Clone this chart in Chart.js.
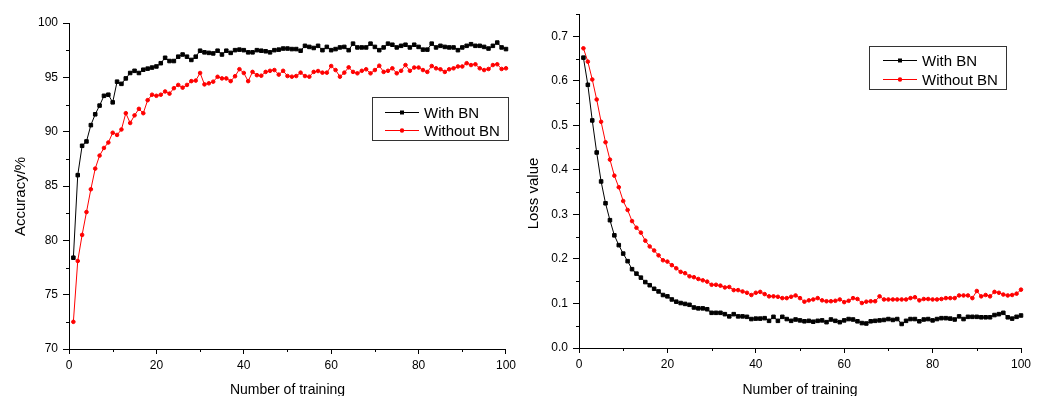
<!DOCTYPE html>
<html>
<head>
<meta charset="utf-8">
<script src="https://cdn.jsdelivr.net/npm/chart.js@4.4.1/dist/chart.umd.min.js"></script>
<style>
  html, body { margin: 0; padding: 0; background: #fff; overflow: hidden; }
  #wrap { position: relative; width: 1049px; height: 396px; }
  .box { position: absolute; top: 0; height: 396px; }
</style>
</head>
<body>
<div id="wrap">
  <div class="box" style="left:0;width:520px"><canvas id="acc"></canvas></div>
  <div class="box" style="left:520px;width:529px"><canvas id="loss"></canvas></div>
</div>
<script>
// training rounds 1..100
const epochs = Array.from({ length: 100 }, (_, i) => i + 1);

const accWithBN = [
  78.4, 86.0, 88.7, 89.1, 90.6, 91.6, 92.4, 93.3, 93.4, 92.7,
  94.6, 94.4, 94.9, 95.4, 95.6, 95.4, 95.7, 95.8, 95.9, 96.0,
  96.3, 96.8, 96.5, 96.5, 96.9, 97.1, 96.9, 96.6, 96.9, 97.45,
  97.3, 97.25, 97.2, 97.45, 97.1, 97.45, 97.25, 97.5, 97.55, 97.5,
  97.3, 97.3, 97.5, 97.45, 97.4, 97.3, 97.5, 97.55, 97.65, 97.65,
  97.6, 97.6, 97.45, 97.9, 97.8, 97.7, 97.9, 97.5, 97.8, 97.5,
  97.6, 97.75, 97.8, 97.5, 98.1, 97.75, 97.75, 97.75, 98.1, 97.8,
  97.5, 97.75, 98.1, 98.0, 97.75, 97.9, 98.0, 97.75, 98.0, 97.8,
  97.55, 97.55, 98.1, 97.75, 97.9, 97.8, 97.75, 97.75, 97.5, 97.75,
  97.9, 98.05, 97.9, 97.9, 97.8, 97.65, 97.9, 98.2, 97.75, 97.6
];
const accWithoutBN = [
  72.5, 78.1, 80.5, 82.6, 84.7, 86.6, 87.8, 88.5, 89.0, 89.9,
  89.7, 90.2, 91.7, 90.8, 91.5, 92.1, 91.7, 92.9, 93.4, 93.3,
  93.4, 93.7, 93.5, 94.0, 94.3, 94.05, 94.3, 94.65, 94.7, 95.4,
  94.35, 94.45, 94.6, 95.05, 94.9, 94.9, 94.65, 95.1, 95.75, 95.4,
  94.65, 95.5, 95.2, 95.15, 95.5, 95.6, 95.67, 95.25, 95.6, 95.12,
  95.06, 95.12, 95.43, 95.12, 95.06, 95.5, 95.58, 95.43, 95.43, 96.04,
  95.67, 95.06, 95.43, 95.92, 95.5, 95.37, 95.6, 95.74, 95.37, 95.67,
  96.07, 95.5, 95.6, 95.83, 95.37, 95.6, 96.13, 95.6, 95.9, 95.9,
  95.67, 95.5, 96.04, 95.83, 95.74, 95.5, 95.74, 95.83, 96.0, 96.0,
  96.3, 96.13, 96.2, 95.83, 95.67, 95.77, 96.13, 96.2, 95.77, 95.83
];
const lossWithBN = [
  0.652, 0.591, 0.511, 0.439, 0.374, 0.325, 0.287, 0.253, 0.231, 0.212,
  0.195, 0.177, 0.167, 0.158, 0.148, 0.141, 0.133, 0.127, 0.119, 0.116,
  0.109, 0.104, 0.101, 0.099, 0.097, 0.091, 0.089, 0.089, 0.087, 0.079,
  0.079, 0.079, 0.076, 0.071, 0.076, 0.071, 0.071, 0.070, 0.065, 0.066,
  0.066, 0.067, 0.061, 0.070, 0.061, 0.070, 0.065, 0.061, 0.064, 0.062,
  0.060, 0.061, 0.059, 0.061, 0.062, 0.058, 0.064, 0.061, 0.058, 0.062,
  0.065, 0.064, 0.060, 0.056, 0.055, 0.060, 0.061, 0.062, 0.063, 0.065,
  0.063, 0.065, 0.054, 0.061, 0.065, 0.065, 0.060, 0.064, 0.065, 0.062,
  0.065, 0.067, 0.067, 0.066, 0.064, 0.071, 0.065, 0.070, 0.070, 0.070,
  0.069, 0.069, 0.069, 0.074, 0.076, 0.079, 0.069, 0.066, 0.070, 0.073
];
const lossWithoutBN = [
  0.673, 0.643, 0.603, 0.558, 0.508, 0.462, 0.423, 0.387, 0.361, 0.330,
  0.310, 0.285, 0.270, 0.259, 0.241, 0.228, 0.219, 0.208, 0.197, 0.194,
  0.186, 0.179, 0.171, 0.168, 0.161, 0.159, 0.155, 0.152, 0.149, 0.142,
  0.142, 0.140, 0.136, 0.137, 0.130, 0.130, 0.127, 0.124, 0.119, 0.124,
  0.126, 0.121, 0.116, 0.116, 0.115, 0.112, 0.112, 0.115, 0.118, 0.112,
  0.104, 0.107, 0.109, 0.112, 0.107, 0.105, 0.105, 0.106, 0.109, 0.103,
  0.106, 0.112, 0.110, 0.101, 0.104, 0.105, 0.105, 0.116, 0.109, 0.109,
  0.109, 0.109, 0.109, 0.109, 0.112, 0.114, 0.107, 0.110, 0.110, 0.109,
  0.109, 0.110, 0.112, 0.112, 0.112, 0.118, 0.118, 0.118, 0.112, 0.128,
  0.116, 0.119, 0.116, 0.126, 0.124, 0.120, 0.118, 0.119, 0.122, 0.131
];

const FONT = '"Liberation Sans", Arial, sans-serif';
Chart.defaults.font.family = FONT;
Chart.defaults.color = '#000';

// short ticks halfway between the labelled ones
const minorTicks = {
  id: 'minorTicks',
  afterDraw(chart, args, opts) {
    const ctx = chart.ctx;
    ctx.save();
    ctx.strokeStyle = '#000';
    ctx.lineWidth = 1;
    ['x', 'y'].forEach(id => {
      const s = chart.scales[id];
      const step = opts[id];
      const n = Math.round((s.max - s.min) / step);
      for (let i = 1; i <= n; i += 2) {
        const p = Math.round(s.getPixelForValue(s.min + i * step)) + 0.5;
        ctx.beginPath();
        if (id === 'x') {
          ctx.moveTo(p, s.top);
          ctx.lineTo(p, s.top + 3);
        } else {
          ctx.moveTo(s.right, p);
          ctx.lineTo(s.right - 3, p);
        }
        ctx.stroke();
      }
    });
    ctx.restore();
  }
};

// framed legend inside the plot
const boxLegend = {
  id: 'boxLegend',
  afterDraw(chart, args, o) {
    const ctx = chart.ctx;
    ctx.save();
    ctx.strokeStyle = '#333';
    ctx.lineWidth = 1;
    ctx.strokeRect(o.x + 0.5, o.y + 0.5, o.w, o.h);
    chart.data.datasets.forEach((ds, i) => {
      const y = o.rows[i] + 0.5;
      const mx = o.lineX + o.lineW / 2;
      ctx.strokeStyle = ds.borderColor;
      ctx.fillStyle = ds.backgroundColor;
      ctx.beginPath();
      ctx.moveTo(o.lineX, y);
      ctx.lineTo(o.lineX + o.lineW, y);
      ctx.stroke();
      ctx.beginPath();
      if (ds.pointStyle === 'rect') ctx.rect(mx - 2, y - 2, 4, 4);
      else ctx.arc(mx, y, 2.2, 0, Math.PI * 2);
      ctx.fill();
      ctx.fillStyle = '#000';
      ctx.font = '15px ' + FONT;
      ctx.textBaseline = 'middle';
      ctx.fillText(ds.label, o.textX, y + 1);
    });
    ctx.restore();
  }
};

function series(label, values, color, style) {
  return {
    label,
    data: epochs.map((x, i) => ({ x, y: values[i] })),
    borderColor: color,
    backgroundColor: color,
    borderWidth: 1,
    pointStyle: style,
    pointRadius: style === 'rect' ? 2.5 : 1.8,
    pointBorderWidth: 1,
    tension: 0,
    clip: false
  };
}

function makeChart(id, cfg) {
  return new Chart(document.getElementById(id), {
    type: 'line',
    data: { datasets: cfg.datasets },
    options: {
      responsive: true,
      maintainAspectRatio: false,
      animation: false,
      layout: { padding: cfg.padding },
      plugins: {
        legend: { display: false },
        tooltip: { enabled: false },
        minorTicks: cfg.minor,
        boxLegend: cfg.legend
      },
      scales: {
        x: {
          type: 'linear',
          min: 0,
          max: 100,
          ticks: { stepSize: 20, font: { size: 12 }, padding: 4, maxRotation: 0, color: '#000' },
          grid: { drawOnChartArea: false, drawTicks: true, tickLength: 5, tickColor: '#000' },
          border: { color: '#000', width: 1 },
          title: {
            display: true, text: 'Number of training', color: '#000',
            font: { size: 14, lineHeight: 1 }, padding: { top: 0, bottom: -1 }
          },
          afterFit(s) { s.height = cfg.xHeight; }
        },
        y: {
          min: cfg.yMin,
          max: cfg.yMax,
          ticks: {
            stepSize: cfg.yStep, includeBounds: false, font: { size: 12 }, padding: 5, color: '#000',
            callback: cfg.yFormat
          },
          grid: { drawOnChartArea: false, drawTicks: true, tickLength: 6, tickColor: '#000' },
          border: { color: '#000', width: 1 },
          title: {
            display: true, text: cfg.yTitle, color: '#000',
            font: { size: 15, lineHeight: 1.2 }, padding: { top: cfg.yTitlePad, bottom: 0 }
          },
          afterFit(s) { s.width = cfg.yWidth; }
        }
      }
    },
    plugins: [minorTicks, boxLegend]
  });
}

// trailing spaces nudge the rotated titles below the axis middle, as in the original
makeChart('acc', {
  datasets: [
    series('With BN', accWithBN, '#000000', 'rect'),
    series('Without BN', accWithoutBN, '#ff0000', 'circle')
  ],
  padding: { top: 23, right: 11, left: 0, bottom: 0 },
  xHeight: 47,
  yWidth: 69,
  yMin: 70, yMax: 100, yStep: 5,
  yFormat: v => v,
  yTitle: 'Accuracy/%     ',
  yTitlePad: 12,
  minor: { x: 10, y: 2.5 },
  legend: { x: 372, y: 97, w: 136, h: 43, rows: [112, 130], lineX: 385, lineW: 34, textX: 424 }
});

makeChart('loss', {
  datasets: [
    series('With BN', lossWithBN, '#000000', 'rect'),
    series('Without BN', lossWithoutBN, '#ff0000', 'circle')
  ],
  padding: { top: 14, right: 28, left: 0, bottom: 0 },
  xHeight: 48,
  yWidth: 59,
  yMin: 0, yMax: 0.75, yStep: 0.1,
  yFormat: v => v.toFixed(1),
  yTitle: 'Loss value      ',
  yTitlePad: 5,
  minor: { x: 10, y: 0.05 },
  legend: { x: 349, y: 46, w: 137, h: 43, rows: [60, 79], lineX: 363, lineW: 34, textX: 402 }
});
</script>
</body>
</html>
